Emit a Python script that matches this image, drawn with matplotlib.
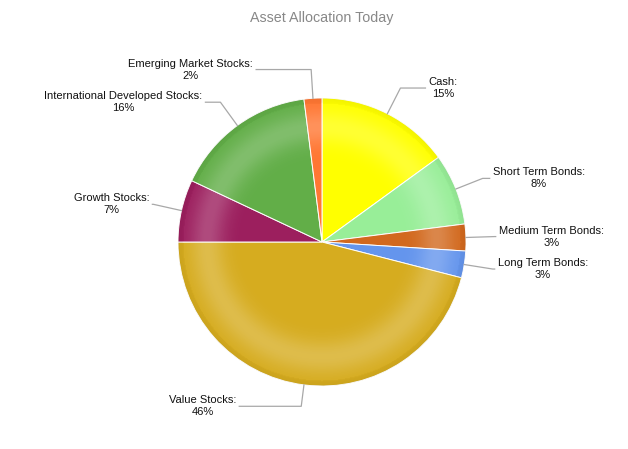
import numpy as np
import matplotlib.pyplot as plt
from matplotlib.patches import Circle

plt.rcParams['font.family'] = ['Liberation Sans', 'DejaVu Sans']

# data
labels = ['Cash', 'Short Term Bonds', 'Medium Term Bonds', 'Long Term Bonds',
          'Value Stocks', 'Growth Stocks', 'International Developed Stocks',
          'Emerging Market Stocks']
values = [15, 8, 3, 3, 46, 7, 16, 2]
colors = ['#FFFF00', '#98EE98', '#D2691E', '#6495ED',
          '#D6AC1F', '#9C1F5E', '#62AE48', '#FF7733']

# layout (pixels)
W, H = 628, 449
cx, cy, R = 322, H - 242, 144
label_gap = [25, 7, 1, 2, 62, 1, 15, 55]   # horizontal connector length
label_rad = [1.2, 1.2, 1.2, 1.2, 1.15, 1.2, 1.2, 1.2]

fig = plt.figure(figsize=(W / 100, H / 100), dpi=100)
ax = fig.add_axes([0, 0, 1, 1])
ax.set_xlim(0, W)
ax.set_ylim(0, H)
ax.set_aspect('equal')
ax.axis('off')

wedges, _ = ax.pie(values, colors=colors, startangle=90, counterclock=False,
                   center=(cx, cy), radius=R,
                   wedgeprops=dict(edgecolor='white', linewidth=0.7))

# radial shading like the original gloss
yy, xx = np.mgrid[cy - R:cy + R:300j, cx - R:cx + R:300j]
rr = np.hypot(xx - cx, yy - cy) / R
shade = np.zeros(rr.shape + (4,))
hi = 0.2 * np.exp(-((rr - 0.8) / 0.12) ** 2)
lo = 0.05 * np.clip((rr - 0.92) / 0.08, 0, 1)
shade[..., :3] = np.where(hi[..., None] > lo[..., None], 1.0, 0.0)
shade[..., 3] = np.maximum(hi, lo)
im = ax.imshow(shade, extent=(cx - R, cx + R, cy - R, cy + R), origin='lower',
               zorder=3, interpolation='bilinear')
im.set_clip_path(Circle((cx, cy), R, transform=ax.transData))
ax.set_xlim(0, W)
ax.set_ylim(0, H)

# labels with connectors
start = 90.0
for lab, v, gap, lr in zip(labels, values, label_gap, label_rad):
    span = v / sum(values) * 360
    mid = np.deg2rad(start - span / 2)
    start -= span
    ex, ey = cx + R * np.cos(mid), cy + R * np.sin(mid)
    bx, by = cx + lr * R * np.cos(mid), cy + lr * R * np.sin(mid)
    side = 1 if np.cos(mid) >= 0 else -1
    tx = bx + side * gap
    ax.plot([ex, bx, tx], [ey, by, by], color='#A8A8A8', lw=0.9, zorder=4)
    ax.text(tx + side * 3, by, f'{lab}:\n{v}%', ha='left' if side > 0 else 'right',
            va='center', multialignment='center', fontsize=8, color='#111111',
            linespacing=1.25, zorder=5)

ax.text(cx, H - 18, 'Asset Allocation Today', ha='center', va='center',
        fontsize=10.3, color='#888888')

fig.savefig('out.png', dpi=100)
